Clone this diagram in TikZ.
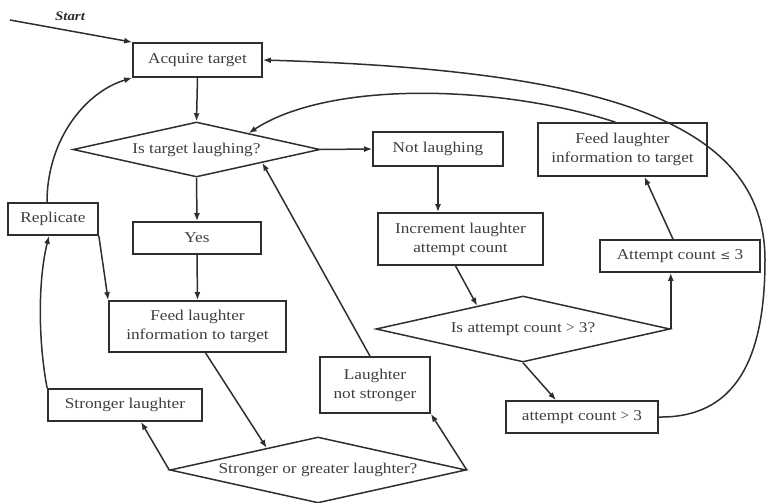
\documentclass[tikz,border=0pt]{standalone}
\usepackage{fontspec}
\setmainfont[FakeStretch=1.15]{Liberation Serif}
\usetikzlibrary{shapes.geometric,arrows.meta,calc}
\definecolor{linec}{HTML}{2E2E2E}
\definecolor{textc}{HTML}{3E3E3E}
\begin{document}
\begin{tikzpicture}[x=1pt,y=-1pt,
  box/.style={draw=linec, line width=1.7pt, text=textc, inner sep=0pt, align=center,
    font=\fontsize{15}{19}\selectfont},
  dia/.style={draw=linec, line width=1.5pt, text=textc, shape=diamond, inner sep=0pt,
    font=\fontsize{15}{19}\selectfont},
  conn/.style={draw=linec, line width=1.5pt, -{Latex[length=8pt,width=6pt]}}]
\useasboundingbox (0,0) rectangle (769,503);
% nodes
\node[box, minimum width=129pt, minimum height=34pt] (acq) at (197.5,60) {Acquire target};
\node[dia, minimum width=247pt, minimum height=55pt, aspect=4.49] (isT) at (196.5,149.5) {Is target laughing?};
\node[box, minimum width=130pt, minimum height=34pt] (notL) at (438,149) {Not laughing};
\node[box, minimum width=165pt, minimum height=52pt] (inc) at (460.5,239) {Increment laughter\\attempt count};
\node[dia, minimum width=294pt, minimum height=66pt, aspect=4.45] (isA) at (523,329) {Is attempt count {\fontspec{Liberation Serif}>} 3?};
\node[box, minimum width=152pt, minimum height=32pt] (gt3) at (582,417) {attempt count {\fontspec{Liberation Serif}>} 3};
\node[box, minimum width=160pt, minimum height=32pt] (le3) at (680,256) {Attempt count {\fontspec{DejaVu Serif}\fontsize{12}{14}\selectfont ≤} 3};
\node[box, minimum width=169pt, minimum height=53pt] (feedR) at (622.5,149.5) {Feed laughter\\information to target};
\node[box, minimum width=128pt, minimum height=32pt] (yes) at (197,238) {Yes};
\node[box, minimum width=177pt, minimum height=51pt] (feedL) at (197.5,326.5) {Feed laughter\\information to target};
\node[box, minimum width=90pt, minimum height=32pt] (rep) at (53,219) {Replicate};
\node[box, minimum width=154pt, minimum height=32pt] (str) at (125,405) {Stronger laughter};
\node[dia, minimum width=296pt, minimum height=66pt, aspect=4.48] (sog) at (318,470) {Stronger or greater laughter?};
\node[box, minimum width=110pt, minimum height=56pt] (lns) at (375,385) {Laughter\\not stronger};
\node[text=linec, font=\fontsize{13}{15}\selectfont\bfseries\itshape] (startlbl) at (70,16) {Start};
\coordinate (start) at (10,20);
% connectors
\draw[conn] (start) -- (acq.north west);
\draw[conn] (acq.south) -- (isT.north);
\draw[conn] (isT.east) -- (notL.west);
\draw[conn] (notL.south) -- (notL.south |- inc.north);
\draw[conn] ($(inc.south)+(-5,0)$) -- ($(isA.west)!0.69!(isA.north)$);
\draw[conn] (isA.south) -- ($(gt3.north)+(-26,0)$);
\draw[conn] (isA.east) -- (isA.east |- le3.south);
\draw[conn] ($(le3.north)+(-7,0)$) -- ($(feedR.south)+(22,0)$);
\draw[conn] ($(feedR.north)+(-7,0)$) .. controls (500,85) and (330,80) .. ($(isT.north)!0.42!(isT.east)$);
\draw[conn] (isT.south) -- (yes.north);
\draw[conn] (yes.south) -- (feedL.north);
\draw[conn] (rep.south east) -- (feedL.north west);
\draw[conn] ($(rep.north)+(-6,0)$) .. controls (47,140) and (85,92) .. (acq.south west);
\draw[conn] (str.north west) .. controls (38,340) and (38,280) .. ($(rep.south)+(-4,0)$);
\draw[conn] ($(feedL.south)+(8,0)$) -- ($(sog.west)!0.655!(sog.north)$);
\draw[conn] (sog.west) -- ($(str.south)+(16,0)$);
\draw[conn] (sog.east) -- (lns.south east);
\draw[conn] ($(lns.north)+(-5,0)$) -- ($(isT.east)!0.47!(isT.south)$);
\draw[conn] (gt3.east) .. controls (735,418) and (765,360) .. (765,260)
  .. controls (765,120) and (600,70) .. (acq.east);
\end{tikzpicture}
\end{document}
